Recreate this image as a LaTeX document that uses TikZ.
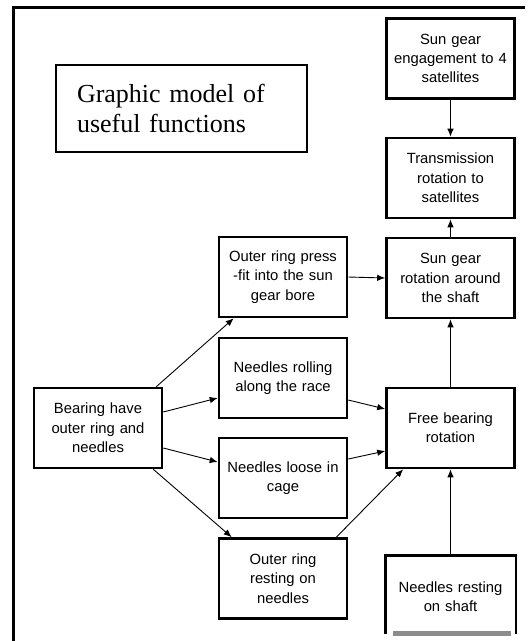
\documentclass[tikz,border=0pt]{standalone}
\usepackage{fontspec}
\setmainfont{Liberation Serif}
\setsansfont{Liberation Sans}
\usetikzlibrary{arrows.meta}

\tikzset{
  fnbox/.style={draw, line width=2.6pt, minimum width=128pt, minimum height=80pt,
    inner sep=0pt, align=center, text width=124pt,
    font=\sffamily\fontsize{14.8}{19.3}\selectfont},
  flow/.style={line width=0.9pt, -{Latex[length=8pt,width=6.5pt]}},
  frameline/.style={line width=3pt},
}

\begin{document}
\begin{tikzpicture}[x=1pt, y=-1pt]
  \useasboundingbox (0,0) rectangle (530,641);

  % outer frame (top and left edges)
  \draw[frameline] (13.5,7.5) -- (525,7.5);
  \draw[frameline] (13.5,6) -- (13.5,641);

  % heading
  \node[draw, line width=2.4pt, minimum width=251pt, minimum height=87pt,
        inner sep=0pt, text width=209pt, align=left,
        font=\rmfamily\fontsize{26}{30}\selectfont] (title) at (181.5,108.5)
        {Graphic model of\\useful functions};

  % right column
  \node[fnbox] (eng)    at (450.5,58.5) {Sun gear\\engagement to 4\\satellites};
  \node[fnbox] (trans)  at (450.5,178)  {Transmission\\rotation to\\satellites};
  \node[fnbox] (sunrot) at (450.5,278)  {Sun gear\\rotation around\\the shaft};
  \node[fnbox] (free)   at (450.5,428)  {Free bearing\\rotation};
  \node[fnbox, draw=none] (rest) at (450.5,597) {Needles resting\\on shaft};
  \draw[line width=2.6pt] ([yshift=4pt]rest.south west) -- (rest.north west)
        -- (rest.north east) -- ([yshift=4pt]rest.south east);

  % middle column
  \node[fnbox] (press)   at (283,277)   {Outer ring press\\-fit into the sun\\gear bore};
  \node[fnbox] (roll)    at (283,378)   {Needles rolling\\along the race};
  \node[fnbox] (loose)   at (283,478)   {Needles loose in\\cage};
  \node[fnbox] (resting) at (283,578.5) {Outer ring\\resting on\\needles};

  % left column
  \node[fnbox] (bear) at (98,428) {Bearing have\\outer ring and\\needles};

  % connectors
  \draw[flow] (eng.south) -- (trans.north);
  \draw[flow] (sunrot.north) -- (trans.south);
  \draw[flow] (free.north) -- (sunrot.south);
  \draw[flow] (rest.north) -- (free.south);
  \draw[flow] (press.east) -- (sunrot.west);

  \draw[flow] ([xshift=-7pt]bear.north east) -- ([xshift=16pt]press.south west);
  \draw[flow] ([yshift=16pt]bear.east) -- ([yshift=-20pt]roll.west);
  \draw[flow] ([yshift=-20pt]bear.east) -- ([yshift=16pt]loose.west);
  \draw[flow] ([xshift=-10pt]bear.south east) -- ([xshift=14pt]resting.north west);

  \draw[flow] ([yshift=-22pt]roll.east) -- ([yshift=19pt]free.west);
  \draw[flow] ([yshift=19pt]loose.east) -- ([yshift=-23pt]free.west);
  \draw[flow] ([xshift=-12pt]resting.north east) -- ([xshift=18pt]free.south west);

  % grey bar along the bottom edge
  \fill[gray!90] (393,630.5) rectangle (511,635.5);
\end{tikzpicture}
\end{document}
